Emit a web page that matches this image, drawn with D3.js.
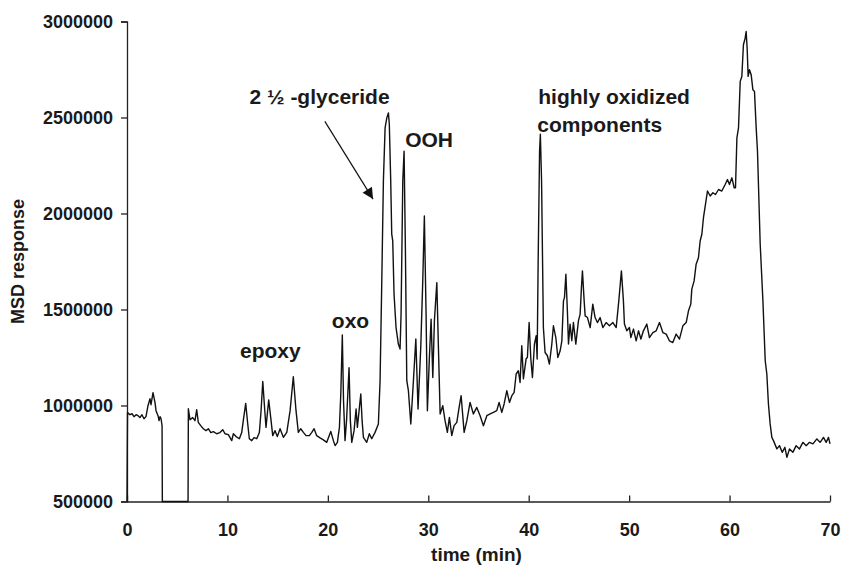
<!DOCTYPE html>
<html>
<head>
<meta charset="utf-8">
<script src="https://cdn.jsdelivr.net/npm/d3@7"></script>
<style>
  body { margin: 0; background: #fff; }
  text { font-family: "Liberation Sans", Arial, sans-serif; font-weight: bold; fill: #1a1a1a; }
</style>
</head>
<body>
<div id="chart"></div>
<script>
// retention time (min)
const time = [0, 0.05, 0.30, 0.50, 0.70, 0.90, 1.10, 1.29, 1.49, 1.69, 1.89, 2.09, 2.29, 2.39, 2.59, 2.79, 2.89, 3.09, 3.19, 3.29, 3.39, 3.49, 3.52,
  6.08, 6.11, 6.27, 6.54, 6.77, 6.94, 7.10, 7.34, 7.60, 7.87, 8.10, 8.34, 8.60, 8.93, 9.26, 9.53, 9.76, 10.09, 10.43, 10.59, 10.86, 11.19,
  11.42, 11.58, 11.82, 12.02, 12.18, 12.42, 12.65, 12.92, 13.18, 13.35, 13.52, 13.72, 13.84, 14.11, 14.31, 14.51, 14.74, 14.97, 15.24, 15.57,
  15.91, 16.24, 16.56, 16.83, 17.06, 17.30, 17.56, 17.83, 18.16, 18.40, 18.63, 18.89, 19.22, 19.55, 19.89, 20.29, 20.55, 20.72, 20.95, 21.15,
  21.29, 21.44, 21.56, 21.71, 21.86, 22.11, 22.24, 22.38, 22.61, 22.81, 22.94, 23.11, 23.28, 23.41, 23.54, 23.87, 24.13, 24.37, 24.70, 25.03,
  25.20, 25.37, 25.53, 25.70, 25.87, 26.03, 26.12, 26.26, 26.36, 26.46, 26.59, 26.79, 27.02, 27.19, 27.29, 27.46, 27.59, 27.72, 27.86, 28.02,
  28.26, 28.52, 28.76, 28.98, 29.25, 29.45, 29.61, 29.78, 29.91, 30.11, 30.28, 30.45, 30.61, 30.85, 31.01, 31.18, 31.44, 31.67, 31.90, 32.10,
  32.34, 32.57, 32.84, 33.07, 33.27, 33.57, 33.84, 34.16, 34.49, 34.83, 35.16, 35.49, 35.83, 36.16, 36.48, 36.82, 37.05, 37.32, 37.55, 37.82,
  38.08, 38.32, 38.55, 38.75, 38.97, 39.14, 39.31, 39.47, 39.74, 39.87, 40.04, 40.21, 40.37, 40.57, 40.74, 40.84, 40.94, 41.08, 41.16, 41.28,
  41.46, 41.63, 41.86, 42.06, 42.30, 42.46, 42.70, 42.90, 43.13, 43.30, 43.46, 43.56, 43.70, 43.85, 43.96, 44.12, 44.29, 44.45, 44.69, 44.95,
  45.12, 45.25, 45.35, 45.52, 45.62, 45.85, 46.12, 46.38, 46.61, 46.84, 47.11, 47.38, 47.71, 48.04, 48.38, 48.71, 48.97, 49.23, 49.43, 49.53,
  49.77, 50.03, 50.17, 50.43, 50.70, 50.93, 51.17, 51.42, 51.76, 52.02, 52.36, 52.69, 53.02, 53.36, 53.69, 54.01, 54.35, 54.68, 55.01, 55.35,
  55.68, 55.91, 56.14, 56.24, 56.47, 56.67, 56.90, 57.07, 57.24, 57.40, 57.60, 57.80, 58.07, 58.34, 58.60, 58.90, 59.23, 59.56, 59.79, 59.99,
  60.23, 60.46, 60.59, 60.73, 60.89, 61.06, 61.22, 61.38, 61.55, 61.65, 61.75, 61.85, 61.98, 62.15, 62.32, 62.48, 62.65, 62.78, 63.05, 63.32,
  63.55, 63.71, 63.87, 64.04, 64.21, 64.37, 64.71, 64.97, 65.24, 65.51, 65.71, 65.97, 66.30, 66.63, 66.96, 67.30, 67.63, 67.96, 68.30, 68.69,
  69.02, 69.35, 69.62, 69.85, 70.0];

// MSD response
const response = [500000, 963000, 952000, 957000, 942000, 952000, 947000, 937000, 952000, 931000, 942000, 999000, 1035000, 1004000, 1067000, 1015000, 973000, 947000, 921000, 942000, 931000, 895000, 500000,
  500000, 983000, 926000, 937000, 921000, 978000, 912000, 895000, 879000, 869000, 879000, 859000, 864000, 853000, 859000, 874000, 853000, 848000, 817000, 853000, 838000, 827000,
  859000, 921000, 1011000, 905000, 827000, 817000, 833000, 827000, 859000, 973000, 1125000, 973000, 886000, 1029000, 938000, 843000, 869000, 838000, 879000, 834000,
  860000, 973000, 1150000, 973000, 860000, 879000, 860000, 843000, 843000, 860000, 879000, 843000, 831000, 821000, 808000, 865000, 817000, 791000, 808000, 886000,
  1061000, 1368000, 1025000, 817000, 921000, 1197000, 921000, 808000, 869000, 982000, 886000, 973000, 1060000, 921000, 834000, 808000, 853000, 827000, 860000, 904000,
  1129000, 1649000, 2169000, 2446000, 2498000, 2524000, 2465000, 2169000, 1893000, 1857000, 1581000, 1406000, 1320000, 1294000, 1477000, 2169000, 2324000, 1822000, 1129000, 1077000,
  904000, 1129000, 1346000, 982000, 1302000, 1649000, 1987000, 1477000, 973000, 1250000, 1450000, 1146000, 1441000, 1640000, 1302000, 956000, 999000, 921000, 860000, 938000,
  843000, 895000, 912000, 990000, 1051000, 860000, 921000, 1016000, 956000, 990000, 947000, 895000, 947000, 956000, 964000, 973000, 1016000, 964000, 1008000, 1077000,
  1016000, 1051000, 1068000, 1164000, 1181000, 1120000, 1311000, 1139000, 1243000, 1250000, 1432000, 1243000, 1146000, 1320000, 1363000, 1242000, 1753000, 2324000, 2413000, 2169000,
  1406000, 1276000, 1259000, 1216000, 1320000, 1415000, 1354000, 1250000, 1285000, 1337000, 1545000, 1562000, 1684000, 1493000, 1320000, 1424000, 1337000, 1432000, 1320000, 1441000,
  1476000, 1614000, 1701000, 1545000, 1467000, 1458000, 1406000, 1528000, 1458000, 1432000, 1458000, 1406000, 1432000, 1415000, 1432000, 1406000, 1545000, 1701000, 1545000, 1424000,
  1389000, 1406000, 1354000, 1398000, 1337000, 1389000, 1346000, 1389000, 1424000, 1354000, 1380000, 1389000, 1432000, 1380000, 1372000, 1337000, 1328000, 1372000, 1346000, 1415000,
  1432000, 1493000, 1528000, 1606000, 1649000, 1736000, 1770000, 1857000, 1892000, 1978000, 2047000, 2117000, 2091000, 2108000, 2099000, 2125000, 2117000, 2151000, 2177000, 2151000,
  2186000, 2134000, 2134000, 2394000, 2446000, 2688000, 2714000, 2879000, 2913000, 2948000, 2861000, 2714000, 2749000, 2723000, 2645000, 2636000, 2446000, 2324000, 1840000, 1545000,
  1233000, 1164000, 1008000, 904000, 834000, 817000, 774000, 791000, 756000, 782000, 730000, 774000, 756000, 791000, 774000, 808000, 791000, 808000, 800000, 826000,
  808000, 834000, 808000, 834000, 800000];

const xTicks = [0, 10, 20, 30, 40, 50, 60, 70];
const yTicks = [500000, 1000000, 1500000, 2000000, 2500000, 3000000];

// peak labels, anchored at (time, response) of the text start / baseline
const labelText = ["epoxy", "oxo", "2 \u00BD -glyceride", "OOH", "highly oxidized", "components"];
const labelTime = [11.25, 20.4, 12.2, 27.7, 40.95, 40.85];
const labelResp = [1248000, 1404000, 2569000, 2345000, 2569000, 2423000];

const margin = {top: 21.5, right: 11, bottom: 66.5, left: 127},
  width = 841 - margin.left - margin.right,
  height = 568 - margin.top - margin.bottom;

const svg = d3.select("#chart")
  .append("svg")
  .attr("width", 841)
  .attr("height", 568)
  .append("g")
  .attr("transform", `translate(${margin.left}, ${margin.top})`);

const x = d3.scaleLinear().domain([0, 70]).range([0, width]);
const y = d3.scaleLinear().domain([500000, 3000000]).range([height, 0]);

// Y axis
const yAxis = svg.append("g")
  .call(d3.axisLeft(y).tickValues(yTicks).tickSize(6).tickPadding(8).tickFormat(d3.format("d")));
yAxis.selectAll("text").style("font-size", "18px").attr("dy", "0.36em");

// X axis, ticks pointing inwards
const xAxis = svg.append("g")
  .attr("transform", `translate(0, ${height})`)
  .call(d3.axisBottom(x).tickValues(xTicks).tickSize(-6).tickPadding(22).tickSizeOuter(0));
xAxis.selectAll("text").style("font-size", "18px");

svg.selectAll(".domain, .tick line").attr("stroke", "#222").attr("stroke-width", 1.3);

// trace
const line = d3.line()
  .x((d, i) => x(time[i]))
  .y((d, i) => y(response[i]));

svg.append("path")
  .datum(response)
  .attr("fill", "none")
  .attr("stroke", "#111")
  .attr("stroke-width", 1.4)
  .attr("stroke-linejoin", "round")
  .attr("d", line);

// labels
svg.selectAll(".peakLabel")
  .data(labelText)
  .join("text")
  .attr("class", "peakLabel")
  .attr("x", (d, i) => x(labelTime[i]))
  .attr("y", (d, i) => y(labelResp[i]))
  .style("font-size", "21px")
  .text(d => d);

// arrow to the glyceride peak
svg.append("defs").append("marker")
  .attr("id", "head")
  .attr("viewBox", "0 0 10 10")
  .attr("refX", 10).attr("refY", 5)
  .attr("markerWidth", 14).attr("markerHeight", 11)
  .attr("markerUnits", "userSpaceOnUse")
  .attr("orient", "auto")
  .append("path")
  .attr("d", "M0,0L10,5L0,10Z")
  .attr("fill", "#111");

svg.append("line")
  .attr("x1", x(19.7)).attr("y1", y(2480000))
  .attr("x2", x(24.5)).attr("y2", y(2075000))
  .attr("stroke", "#111")
  .attr("stroke-width", 1.2)
  .attr("marker-end", "url(#head)");

// axis titles
svg.append("text")
  .attr("x", width / 2 - 2)
  .attr("y", height + 59)
  .attr("text-anchor", "middle")
  .style("font-size", "19px")
  .text("time (min)");

svg.append("text")
  .attr("transform", `translate(${-margin.left + 24}, ${height / 2})rotate(-90)`)
  .attr("text-anchor", "middle")
  .style("font-size", "18px")
  .text("MSD response");
</script>
</body>
</html>
